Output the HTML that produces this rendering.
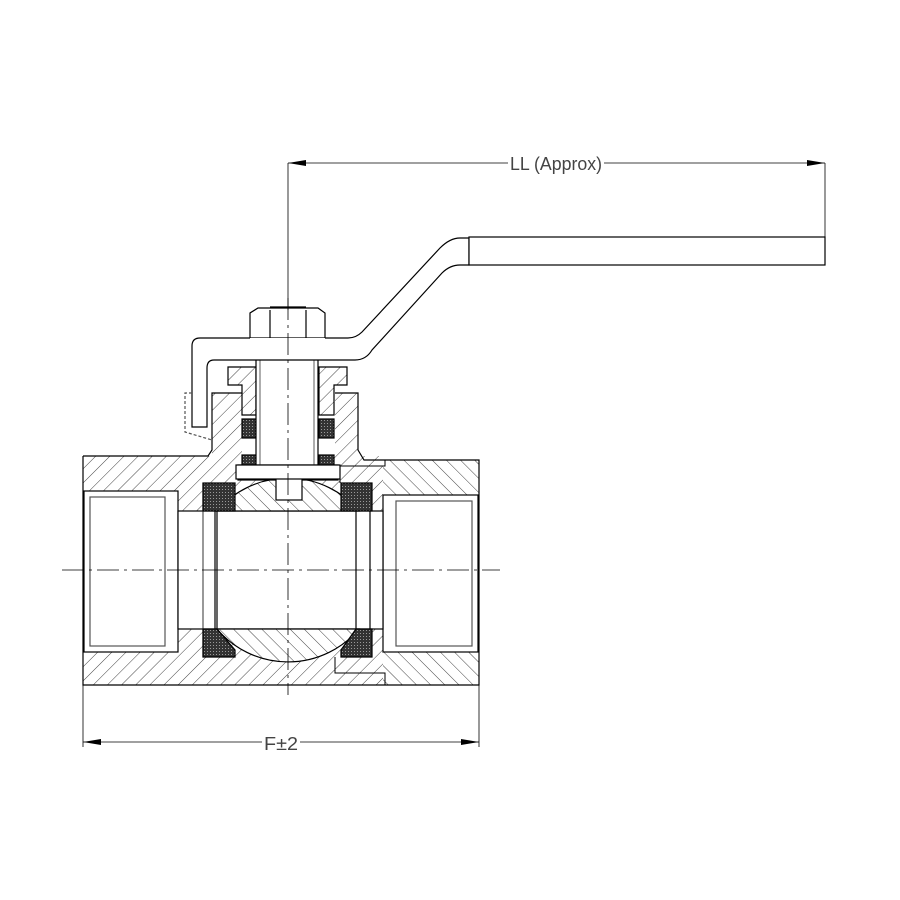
<!DOCTYPE html>
<html><head><meta charset="utf-8"><style>html,body{margin:0;padding:0;background:#fff}svg{display:block}</style></head>
<body>
<svg width="900" height="900" viewBox="0 0 900 900" xmlns="http://www.w3.org/2000/svg">
<defs>
<pattern id="h" width="10" height="10" patternUnits="userSpaceOnUse" patternTransform="rotate(45)">
<rect width="10" height="10" fill="#fff"/><line x1="0" y1="0" x2="0" y2="10" stroke="#444" stroke-width="1"/></pattern>
<pattern id="h2" width="10" height="10" patternUnits="userSpaceOnUse" patternTransform="rotate(-45)">
<rect width="10" height="10" fill="#fff"/><line x1="0" y1="0" x2="0" y2="10" stroke="#444" stroke-width="1"/></pattern>
<pattern id="d" width="3" height="3" patternUnits="userSpaceOnUse">
<rect width="3" height="3" fill="#333"/><rect width="1" height="1" fill="#999"/></pattern>
</defs>
<g fill="none" stroke="#000" stroke-width="1.2">
<rect x="83" y="456" width="300" height="229" fill="url(#h)" stroke="none"/>
<rect x="383" y="460" width="96" height="225" fill="url(#h2)" stroke="none"/>
<path d="M212 393 L242 393 L242 470 L212 470 Z" fill="url(#h)" stroke="none"/>
<path d="M335 393 L358 393 L358 460 L335 460 Z" fill="url(#h)" stroke="none"/>
<rect x="84" y="491" width="94" height="161" fill="#fff" stroke="#000"/>
<rect x="90" y="497" width="75" height="149" stroke="#555"/>
<rect x="383" y="495" width="95" height="157" fill="#fff" stroke="#000"/>
<rect x="396" y="501" width="76" height="145" stroke="#555"/>
<rect x="178" y="511" width="205" height="118" fill="#fff" stroke="#000"/>
<path d="M217 511 A93 93 0 0 1 359 511 Z" fill="url(#h2)" stroke="#000"/>
<path d="M217 629 A93 93 0 0 0 359 629 Z" fill="url(#h2)" stroke="#000"/>
<rect x="238" y="465" width="100" height="15" fill="#fff"/>
<rect x="276" y="478" width="26" height="22" fill="#fff"/>
<line x1="217" y1="511" x2="217" y2="629"/><line x1="356" y1="511" x2="356" y2="629"/>
<line x1="203" y1="483" x2="203" y2="657" stroke="#555"/><line x1="215" y1="511" x2="215" y2="629"/>
<line x1="370" y1="511" x2="370" y2="629"/>
<rect x="203" y="483" width="32" height="28" fill="url(#d)" stroke="#000"/>
<rect x="341" y="483" width="31" height="28" fill="url(#d)" stroke="#000"/>
<path d="M203 629 L217 629 L235 650 L235 657 L203 657 Z" fill="url(#d)" stroke="#000"/>
<path d="M341 657 L341 650 L356 629 L372 629 L372 657 Z" fill="url(#d)" stroke="#000"/>
<path d="M83 456 L208 456 L212 450 L212 393 L242 393"/>
<path d="M335 393 L358 393 L358 450 L364 460 L479 460 L479 685 L83 685 L83 456"/>
<path d="M340 483 L340 466 L385 466 L385 460" stroke-width="1"/>
<path d="M335 657 L335 673 L385 673 L385 685" stroke-width="1"/>
<rect x="242" y="419" width="14" height="19" fill="url(#d)" stroke="#000"/>
<rect x="319" y="419" width="15" height="19" fill="url(#d)" stroke="#000"/>
<rect x="242" y="455" width="14" height="10" fill="url(#d)" stroke="#000"/>
<rect x="319" y="455" width="15" height="10" fill="url(#d)" stroke="#000"/>
<path d="M228 367 L256 367 L256 415 L242 415 L242 385 L228 385 Z" fill="url(#h)"/>
<path d="M319 367 L347 367 L347 385 L334 385 L334 415 L319 415 Z" fill="url(#h)"/>
<rect x="256" y="338" width="62" height="127" fill="#fff"/>
<line x1="260" y1="338" x2="260" y2="465" stroke="#777"/><line x1="314" y1="338" x2="314" y2="465" stroke="#777"/>
<rect x="236" y="465" width="104" height="14" fill="#fff"/>
<path d="M250 338 L250 313 L258 308 L318 308 L325 313 L325 338 Z" fill="#fff"/>
<line x1="270" y1="310" x2="270" y2="338"/><line x1="306" y1="310" x2="306" y2="338"/>
<line x1="270" y1="307" x2="306" y2="307"/>
<path d="M325 338 L348 338 Q356 338 362 332 L440 248 Q450 238 460 238 L469 238 L469 265 L460 265 Q450 265 442 273 L372 350 Q366 360 355 360 L214 360 Q207 360 207 368 L207 427 L192 427 L192 346 Q192 338 200 338 L250 338" fill="#fff"/>
<rect x="469" y="237" width="356" height="28" fill="#fff"/>
<path d="M192 393 L185 393 L185 432 L212 440" stroke-dasharray="3,2" stroke="#555"/>
</g>
<g stroke="#000" stroke-width="0.8" fill="none">
<line x1="62" y1="570" x2="500" y2="570" stroke-dasharray="22,5,3,5"/>
<line x1="288" y1="298" x2="288" y2="695" stroke-dasharray="22,5,3,5"/>
<line x1="288" y1="163" x2="288" y2="310"/>
<line x1="825" y1="163" x2="825" y2="265"/>
<line x1="288" y1="163" x2="825" y2="163"/>
<line x1="83" y1="685" x2="83" y2="747"/>
<line x1="479" y1="685" x2="479" y2="747"/>
<line x1="83" y1="742" x2="479" y2="742"/>
</g>
<g fill="#000">
<path d="M288 163 L306 160 L306 166 Z"/><path d="M825 163 L807 160 L807 166 Z"/>
<path d="M83 742 L101 739 L101 745 Z"/><path d="M479 742 L461 739 L461 745 Z"/>
</g>
<rect x="508" y="152" width="96" height="20" fill="#fff"/>
<text x="510" y="170" font-family="Liberation Sans Narrow, Liberation Sans, sans-serif" font-size="18" fill="#444" textLength="92" lengthAdjust="spacingAndGlyphs">LL (Approx)</text>
<rect x="262" y="731" width="38" height="20" fill="#fff"/>
<text x="264" y="750" font-family="Liberation Sans, sans-serif" font-size="18" fill="#444" textLength="34" lengthAdjust="spacingAndGlyphs">F±2</text>
</svg>
</body></html>
